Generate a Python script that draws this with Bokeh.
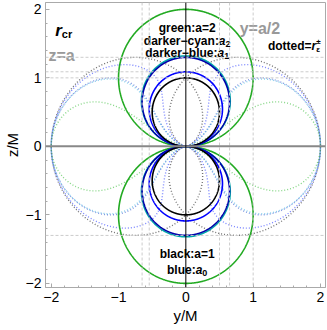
import numpy as np
from bokeh.plotting import figure
from bokeh.models import Range1d, FixedTicker, Span
from bokeh.core.properties import value
from bokeh.embed import file_html
from bokeh.resources import INLINE

# ---- data (M = 1) ----
spin_names = ["black", "blue", "darker-blue", "darker-cyan", "green"]
spin_values = [1.0, 1.0887, 1.299, 1.32, 2.0]          # a=1, a0, a1, a2, a=2
solid_colors = ["#000000", "#0000ff", "#0000aa", "#00aaaa", "#22aa22"]
dotted_colors = ["#444444", "#3344ff", "#2244cc", "#22aadd", "#33bb33"]
dotted_alpha = [0.75, 0.65, 0.55, 0.55, 0.6]
tick_values = [-2, -1, 0, 1, 2]
tick_labels = ["\u22122", "\u22121", "0", "1", "2"]
minor_values = [round(-2 + 0.2 * i, 1) for i in range(21)]
grid_y = [-0.65, -0.544, 0.5, 0.65, 1.0]      # y = a/2 lines
grid_z = [1.0, 1.0887, 1.3, -1.3]             # z = a lines

FONT = "Liberation Sans"

p = figure(width=327, height=326, output_backend="svg", toolbar_location=None,
           x_range=Range1d(-2.085, 2.075), y_range=Range1d(-2.06, 2.1),
           min_border_left=43, min_border_right=2, min_border_top=2,
           min_border_bottom=36)
p.grid.visible = False
p.outline_line_color = "#aaaaaa"
p.background_fill_color = "white"
p.border_fill_color = "white"

def style_axis(ax):
    ax.ticker = FixedTicker(ticks=tick_values, minor_ticks=minor_values)
    ax.major_tick_in = 4
    ax.major_tick_out = 0
    ax.minor_tick_in = 2
    ax.minor_tick_out = 0
    ax.axis_line_color = "#aaaaaa"
    ax.major_tick_line_color = "#aaaaaa"
    ax.minor_tick_line_color = "#aaaaaa"
    ax.major_label_overrides = {v: t for v, t in zip(tick_values, tick_labels)}
    ax.major_label_text_font = FONT
    ax.major_label_text_font_size = "14px"
    ax.major_label_text_color = "black"
    ax.major_label_standoff = 4
    ax.axis_label_text_font = FONT
    ax.axis_label_text_font_size = "15px"
    ax.axis_label_text_font_style = "normal"
    ax.axis_label_text_color = "black"
    ax.axis_label_standoff = 2

style_axis(p.xaxis[0])
style_axis(p.yaxis[0])
p.xaxis[0].axis_label = "y/M"
p.yaxis[0].axis_label = "z/M"

# ---- dashed grid lines ----
for gy in grid_y:
    p.add_layout(Span(location=gy, dimension="height", line_color="#cccccc",
                      line_dash="3 2", line_width=1))
for gz in grid_z:
    p.add_layout(Span(location=gz, dimension="width", line_color="#cccccc",
                      line_dash="3 2", line_width=1))

# ---- dotted curves r_eps^± ----
for a, col, al in zip(spin_values, dotted_colors, dotted_alpha):
    th0 = 0.0 if a <= 1 else np.arccos(1.0 / a)
    s = np.linspace(0, np.pi, 1500)
    th = th0 + (np.pi - 2 * th0) * (1 - np.cos(s)) / 2
    root = np.sqrt(np.clip(1 - a**2 * np.cos(th)**2, 0, None))
    rp = 1 + root
    rm = 1 - root
    yy = np.concatenate([rp * np.sin(th), (rm * np.sin(th))[::-1]])
    zz = np.concatenate([rp * np.cos(th), (rm * np.cos(th))[::-1]])
    p.multi_line(xs=[list(yy), list(-yy)], ys=[list(zz), list(zz)],
                 line_color=col, line_alpha=al, line_width=1.4,
                 line_dash="1 2")

# ---- solid lobes r_cr ----
order = [4, 3, 2, 1, 0]
for i in order:
    a = spin_values[i]
    th = np.linspace(0, 2 * np.pi, 1441)
    r = a * np.abs(np.cos(th))
    p.line(r * np.sin(th), r * np.cos(th), line_color=solid_colors[i],
           line_width=1.6)

# ---- zero lines ----
p.add_layout(Span(location=0, dimension="width", line_color="#888888", line_width=2))
p.add_layout(Span(location=0, dimension="height", line_color="#000000", line_width=1))

# ---- texts ----
W = {"a": 556, "b": 611, "c": 556, "d": 611, "e": 556, "g": 611, "k": 556,
     "l": 278, "n": 611, "o": 611, "r": 389, "t": 333, "u": 611, "y": 556,
     "z": 500, ":": 333, "=": 584, "\u2212": 584, "/": 278, "\u00b1": 584,
     "\u03b5": 480}

def tw(s, size):
    return sum(W.get(ch, 556) for ch in s) * size / 1000.0

PPU = 68.0  # approx px per data unit vertically

def compose(x, z, segs, align="center", color="black"):
    total = sum(tw(t, sz) for t, sz, st, dy, adv in segs if adv)
    off = -total / 2 if align == "center" else 0.0
    for t, sz, st, dy, adv in segs:
        p.text(x=[x], y=[z - dy / PPU], text=[t], x_offset=off,
               text_font=value(FONT), text_font_size=f"{sz}px",
               text_font_style=st, text_color=color,
               text_align="left", text_baseline="alphabetic")
        if adv:
            off += tw(t, sz)

B, BI = "bold", "bold italic"
compose(0.02, 1.735, [("green:a=2", 12, B, 0, True)])
compose(0.02, 1.544, [("darker\u2212cyan:", 12, B, 0, True), ("a", 12, BI, 0, True),
                      ("2", 9, B, 3, True)])
compose(0.02, 1.368, [("darker\u2212blue:", 12, B, 0, True), ("a", 12, BI, 0, True),
                      ("1", 9, B, 3, True)])
compose(0.02, -1.574, [("black:a=1", 12, B, 0, True)])
compose(0.02, -1.809, [("blue:", 12, B, 0, True), ("a", 12, BI, 0, True),
                       ("0", 9, B, 3, True)])
compose(-1.94, 1.69, [("r", 17, BI, 0, True), ("cr", 11, B, 3, True)], align="left")
compose(-2.04, 1.32, [("z=a", 16, B, 0, True)], align="left", color="#999999")
compose(0.80, 1.72, [("y=a/2", 16, B, 0, True)], align="left", color="#999999")
compose(1.22, 1.46, [("dotted=", 12, B, 0, True), ("r", 12, BI, 0, True),
                     ("\u00b1", 8, B, -5, False), ("\u03b5", 8, B, 3, True)],
        align="left")

open("out.html", "w").write(file_html(p, INLINE))
